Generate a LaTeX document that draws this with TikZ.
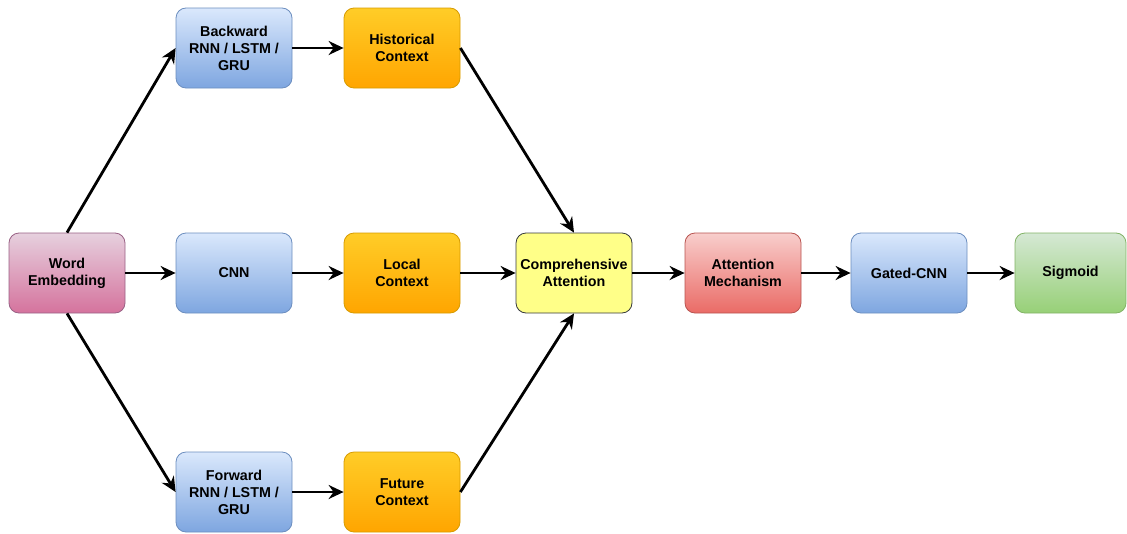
\documentclass[tikz,border=0pt]{standalone}
\usepackage{fontspec}
\setmainfont{Liberation Sans}
\usetikzlibrary{arrows.meta}
\definecolor{pinkT}{HTML}{E6D0DE}\definecolor{pinkB}{HTML}{D5739D}\definecolor{pinkS}{HTML}{996185}
\definecolor{blueT}{HTML}{DAE8FC}\definecolor{blueB}{HTML}{7EA6E0}\definecolor{blueS}{HTML}{6C8EBF}
\definecolor{orT}{HTML}{FFCD28}\definecolor{orB}{HTML}{FFA500}\definecolor{orS}{HTML}{D79B00}
\definecolor{yelF}{HTML}{FFFF88}\definecolor{yelS}{HTML}{36393D}
\definecolor{redT}{HTML}{F8CECC}\definecolor{redB}{HTML}{EA6B66}\definecolor{redS}{HTML}{B85450}
\definecolor{grT}{HTML}{D5E8D4}\definecolor{grB}{HTML}{97D077}\definecolor{grS}{HTML}{82B366}
\tikzset{
  box/.style={rounded corners=10pt, minimum width=116pt, minimum height=80pt, inner sep=0pt,
    align=center, font=\fontsize{14.3}{17}\selectfont\bfseries, line width=0.8pt},
  pinkbox/.style={box, draw=pinkS, top color=pinkT, bottom color=pinkB},
  bluebox/.style={box, draw=blueS, top color=blueT, bottom color=blueB},
  orbox/.style={box, draw=orS, top color=orT, bottom color=orB},
  yelbox/.style={box, draw=yelS, fill=yelF},
  redbox/.style={box, draw=redS, top color=redT, bottom color=redB},
  grbox/.style={box, draw=grS, top color=grT, bottom color=grB},
  conn/.style={line width=2.8pt, -{Stealth[length=15pt,width=14pt,inset=5pt]}}
}
\begin{document}
\begin{tikzpicture}[x=1pt,y=-1pt]
\useasboundingbox (0,0) rectangle (1127,533);
\node[pinkbox] (we) at (67,273) {Word\\Embedding};
\node[bluebox] (bw) at (234,48) {Backward\\RNN / LSTM /\\GRU};
\node[bluebox] (cnn) at (234,273) {CNN};
\node[bluebox] (fw) at (234,492) {Forward\\RNN / LSTM /\\GRU};
\node[orbox] (hc) at (402,48) {Historical\\Context};
\node[orbox] (lc) at (402,273) {Local\\Context};
\node[orbox] (fc) at (402,492) {Future\\Context};
\node[yelbox] (ca) at (574,273) {Comprehensive\\Attention};
\node[redbox] (am) at (743,273) {Attention\\Mechanism};
\node[bluebox] (gc) at (909,273) {Gated-CNN};
\node[grbox, minimum width=111pt] (sg) at (1070.5,273) {Sigmoid};
\draw[conn] (we.north) -- (bw.west);
\draw[conn] (we.east) -- (cnn.west);
\draw[conn] (we.south) -- (fw.west);
\draw[conn] (bw.east) -- (hc.west);
\draw[conn] (cnn.east) -- (lc.west);
\draw[conn] (fw.east) -- (fc.west);
\draw[conn] (hc.east) -- (ca.north);
\draw[conn] (lc.east) -- (ca.west);
\draw[conn] (fc.east) -- (ca.south);
\draw[conn] (ca.east) -- (am.west);
\draw[conn] (am.east) -- (gc.west);
\draw[conn] (gc.east) -- (sg.west);
\end{tikzpicture}
\end{document}
